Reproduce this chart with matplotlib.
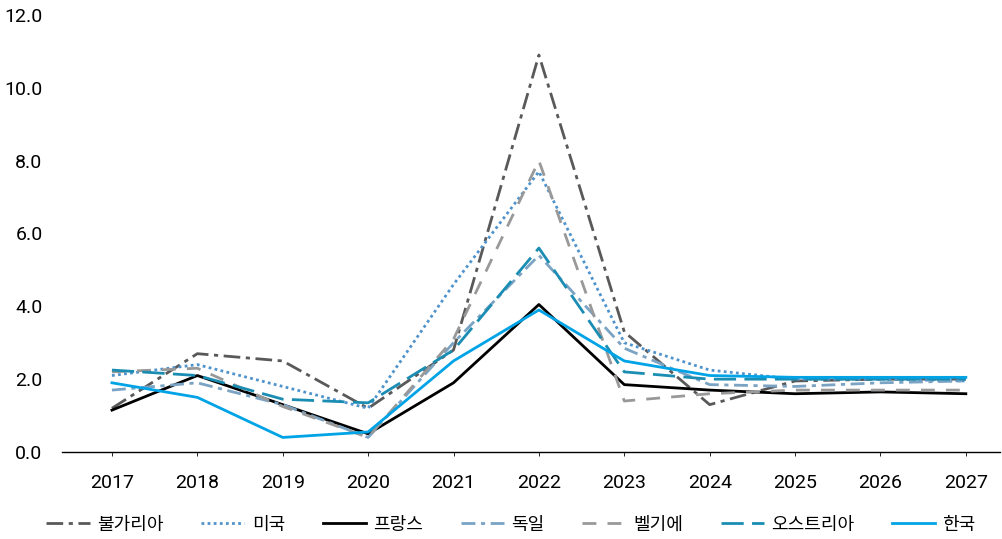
import numpy as np
import matplotlib.pyplot as plt

plt.rcParams['font.family'] = ['Noto Sans CJK KR', 'DejaVu Sans']

years = ['2017', '2018', '2019', '2020', '2021', '2022', '2023', '2024', '2025', '2026', '2027']

bulgaria = [1.2, 2.7, 2.5, 1.2, 2.8, 10.9, 3.3, 1.3, 1.95, 2.0, 2.0]
usa      = [2.1, 2.4, 1.8, 1.2, 4.6, 7.7, 3.0, 2.25, 2.0, 2.0, 1.95]
france   = [1.15, 2.1, 1.3, 0.5, 1.9, 4.05, 1.85, 1.7, 1.6, 1.65, 1.6]
germany  = [1.7, 1.9, 1.3, 0.4, 3.0, 5.4, 2.85, 1.85, 1.8, 1.9, 1.95]
belgium  = [2.2, 2.3, 1.25, 0.4, 3.1, 8.0, 1.4, 1.6, 1.7, 1.7, 1.7]
austria  = [2.25, 2.1, 1.45, 1.35, 2.8, 5.6, 2.2, 2.0, 2.0, 2.0, 2.0]
korea    = [1.9, 1.5, 0.4, 0.55, 2.5, 3.9, 2.5, 2.1, 2.05, 2.05, 2.05]

fig = plt.figure(figsize=(10.02, 5.39), dpi=100)
ax = fig.add_axes([62 / 1002, 1 - 452 / 539, 938 / 1002, (452 - 15) / 539])

x = np.arange(len(years))
lw = 2.0
ax.plot(x, bulgaria, color='#595959', lw=lw, dashes=(6, 2, 1.5, 2), label='불가리아')
ax.plot(x, usa, color='#4f93cc', lw=lw, dashes=(1, 1.2), label='미국')
ax.plot(x, france, color='black', lw=lw, label='프랑스')
ax.plot(x, germany, color='#7aa3c4', lw=lw, dashes=(5, 2, 1.5, 2), label='독일')
ax.plot(x, belgium, color='#999999', lw=lw, dashes=(5, 4), label='벨기에')
ax.plot(x, austria, color='#1b8db3', lw=lw, dashes=(8, 3), label='오스트리아')
ax.plot(x, korea, color='#00a3e6', lw=lw, label='한국')

ax.set_xlim(-0.585, 10.4)
ax.set_ylim(0, 12)
ax.set_yticks(np.arange(0, 12.1, 2))
ax.set_yticklabels([f'{v:.1f}' for v in np.arange(0, 12.1, 2)], fontsize=14, family='Roboto')
ax.set_xticks(x)
ax.set_xticklabels(years, fontsize=14, family='Roboto')
ax.tick_params(axis='y', length=0, pad=14)
ax.tick_params(axis='x', length=3, width=0.6, pad=13)
for s in ['top', 'right', 'left']:
    ax.spines[s].set_visible(False)
ax.spines['bottom'].set_linewidth(1.0)

fig.legend(loc='lower left', bbox_to_anchor=(0.03, -0.02, 0.96, 0.06), mode='expand',
           ncol=7, frameon=False, fontsize=13, handlelength=2.4, handletextpad=0.4)

fig.savefig('out.png', dpi=100)
